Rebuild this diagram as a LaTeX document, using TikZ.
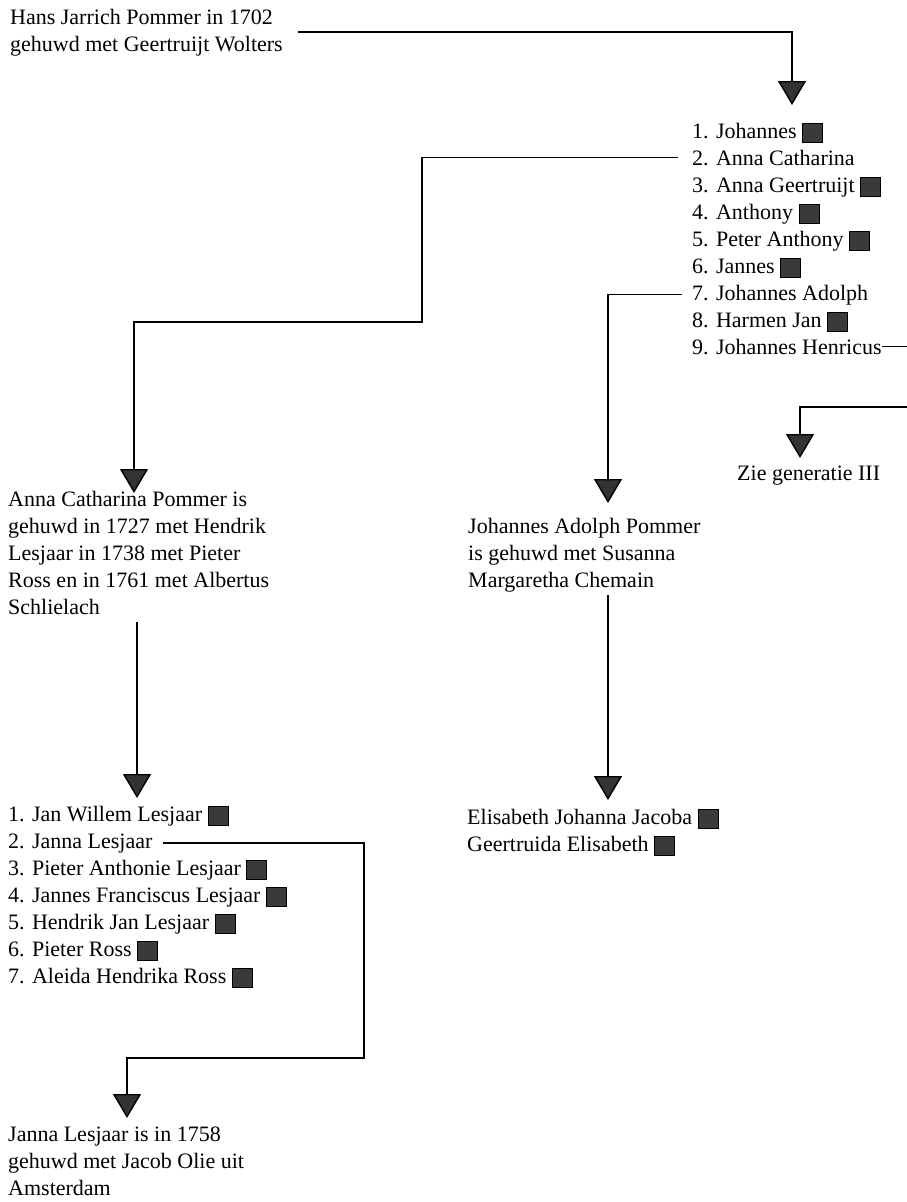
\documentclass[tikz,border=0pt]{standalone}
\usepackage{fontspec}
\setmainfont{Liberation Serif}
\usetikzlibrary{arrows.meta,calc}
\definecolor{sqgray}{HTML}{3A3A3A}
\definecolor{trigray}{HTML}{333333}
\setlength{\fboxsep}{0pt}
\setlength{\fboxrule}{1pt}
\newcommand{\sqbox}{\raisebox{-4pt}{\fcolorbox{black}{sqgray}{\rule{0pt}{18pt}\rule{19pt}{0pt}}}}
\newcommand{\mylines}[1]{\begin{tabular}[t]{@{}l@{}}#1\end{tabular}}
\begin{document}
\begin{tikzpicture}[x=1pt,y=-1pt,
  txt/.style={anchor=base west, inner sep=0pt, font=\fontsize{22}{27}\selectfont},
  conn/.style={line width=1.4pt, draw=black},
  arr/.style={conn, -{Triangle[length=24pt,width=28pt,fill=trigray]}}]
\useasboundingbox (0,0) rectangle (907,1202);

% texts
\node[txt] (top) at (10,24) {\mylines{Hans Jarrich Pommer in 1702\\gehuwd met Geertruijt Wolters}};

\node[txt] (a1) at (692,138) {1. Johannes \sqbox};
\node[txt] (a2) at (692,165) {2. Anna Catharina};
\node[txt] (a3) at (692,192) {3. Anna Geertruijt \sqbox};
\node[txt] (a4) at (692,219) {4. Anthony \sqbox};
\node[txt] (a5) at (692,246) {5. Peter Anthony \sqbox};
\node[txt] (a6) at (692,273) {6. Jannes \sqbox};
\node[txt] (a7) at (692,300) {7. Johannes Adolph};
\node[txt] (a8) at (692,327) {8. Harmen Jan \sqbox};
\node[txt] (a9) at (692,354) {9. Johannes Henricus};

\node[txt] (zg) at (737,480) {Zie generatie III};

\node[txt] (ac) at (8,506) {\mylines{Anna Catharina Pommer is\\gehuwd in 1727 met Hendrik\\Lesjaar in 1738 met Pieter\\Ross en in 1761 met Albertus\\Schlielach}};

\node[txt] (ja) at (468,533) {\mylines{Johannes Adolph Pommer\\is gehuwd met Susanna\\Margaretha Chemain}};

\node[txt] (b1) at (8,821) {1. Jan Willem Lesjaar \sqbox};
\node[txt] (b2) at (8,848) {2. Janna Lesjaar};
\node[txt] (b3) at (8,875) {3. Pieter Anthonie Lesjaar \sqbox};
\node[txt] (b4) at (8,902) {4. Jannes Franciscus Lesjaar \sqbox};
\node[txt] (b5) at (8,929) {5. Hendrik Jan Lesjaar \sqbox};
\node[txt] (b6) at (8,956) {6. Pieter Ross \sqbox};
\node[txt] (b7) at (8,983) {7. Aleida Hendrika Ross \sqbox};

\node[txt] (e1) at (467,824) {Elisabeth Johanna Jacoba \sqbox};
\node[txt] (e2) at (467,851) {Geertruida Elisabeth \sqbox};

\node[txt] (jl) at (8,1141) {\mylines{Janna Lesjaar is in 1758\\gehuwd met Jacob Olie uit\\Amsterdam}};

% bends and arrow tips
\coordinate (tipA) at (792,105);
\coordinate (cB) at (422,322);
\coordinate (tipB) at (134,493);
\coordinate (tipC) at (137,798);
\coordinate (cD) at (364,1058);
\coordinate (tipD) at (127,1118);
\coordinate (tipE) at (608,503);
\coordinate (tipF) at (608,800);
\coordinate (cG) at (915,407);
\coordinate (tipG) at (800,458);

% connectors
\draw[arr] ([xshift=15pt]top.east) -| (tipA);
\draw[arr] ([xshift=-14pt]a2.west) -| (cB) -| (tipB);
\draw[arr] (ac.south -| tipC) -- (tipC);
\draw[arr] ([xshift=10pt]b2.east) -| (cD) -| (tipD);
\draw[arr] ([xshift=-10pt]a7.west) -| (tipE);
\draw[arr] (ja.south -| tipF) -- (tipF);
\draw[arr] (a9.east) -| (cG) -| (tipG);
\end{tikzpicture}
\end{document}
